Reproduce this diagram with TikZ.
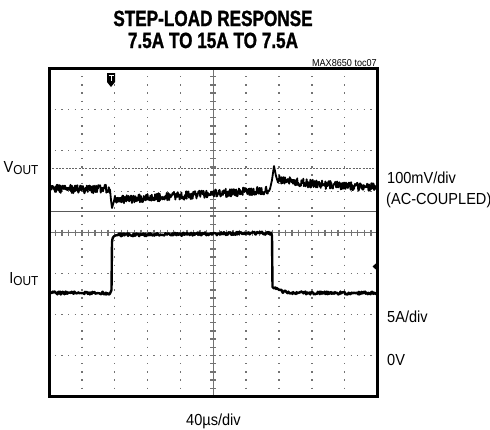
\documentclass[tikz,border=0pt]{standalone}
\usepackage{fontspec}
\setmainfont{Liberation Sans}
\newfontfamily\titlefont[FakeStretch=0.78, FakeBold=1.2]{Liberation Sans}
\newfontfamily\labelfont[FakeStretch=0.91]{Liberation Sans}
\usetikzlibrary{calc}

\begin{document}
\begin{tikzpicture}[x=1pt, y=-1pt]
    \tikzset{TraceStyle/.style = {line width=1.8pt, line join=round, color=black}}
    \tikzset{GridStyleH/.style = {line width=1.4pt, color=black!55, dash pattern=on 1.4pt off 5.17pt, dash phase=0.7pt}}
    \tikzset{GridStyleV/.style = {line width=1.4pt, color=black!55, dash pattern=on 1.4pt off 6.8pt, dash phase=0.7pt}}
    \tikzset{AxisStyle/.style = {line width=0.9pt, color=black!55}}
    \tikzset{LabelStyle/.style = {inner sep=0, font=\labelfont\fontsize{16}{19}\selectfont}}
    \pgfmathsetseed{8650}
    \useasboundingbox (0,0) rectangle (490,429);
    \coordinate (tl) at (49,68.5);
    \coordinate (br) at (377.5,396.5);
    % grid
    \foreach \k in {1,2,3,4,6,7,8,9}
        \draw[GridStyleV] ($(tl)+(32.85*\k,0)$) -- ($(tl |- br)+(32.85*\k,0)$);
    \foreach \j in {1,2,3,5,6,7}
        \draw[GridStyleH] ($(tl)+(0,41*\j)$) -- ($(br |- tl)+(0,41*\j)$);
    \draw[AxisStyle] ($(tl)+(164.25,0)$) -- ($(tl |- br)+(164.25,0)$);
    \foreach \j in {1,...,39}
        \draw[AxisStyle, line width=1.3pt] ($(tl)+(161.25,8.2*\j)$) -- ($(tl)+(167.25,8.2*\j)$);
    \draw[AxisStyle] ($(tl)+(0,164)$) -- ($(br |- tl)+(0,164)$);
    \foreach \k in {1,...,49}
        \draw[AxisStyle, line width=1.3pt] ($(tl)+(6.57*\k,161)$) -- ($(tl)+(6.57*\k,167)$);
    \draw[color=black!60, line width=1pt, dash pattern=on 2pt off 1.3pt] ($(tl)+(0,99.5)$) -- ($(br |- tl)+(0,99.5)$);
    \draw[color=black!65, line width=1pt] ($(tl)+(0,142.5)$) -- ($(br |- tl)+(0,142.5)$);
    % traces
    \draw[TraceStyle] plot[domain=50:110, samples=130] (\x, {189+4.3*rand})
        -- (111,200) -- (112,208) -- (114,201)
        -- plot[domain=115:270, samples=330] (\x, {200-10*(\x-115)/155+4.2*rand})
        -- (272,180) -- (274,166) -- (276,176)
        -- plot[domain=278:376, samples=210] (\x, {188-9*exp(-(\x-278)/45)+4.2*rand});
    \draw[TraceStyle, line width=2.4pt] plot[domain=50:110, samples=90] (\x, {293+1.5*rand})
        -- (111.5,290) -- (112,242) .. controls (112.5,236) and (114,235.5) .. (118,235)
        -- plot[domain=119:271, samples=220] (\x, {235-2*(\x-119)/152+1.5*rand})
        -- (272,236) -- (272.5,287)
        -- plot[domain=274:376, samples=150] (\x, {293-5*exp(-(\x-274)/8)+1.5*rand});
    % markers
    \fill (107,73) -- (115,73) -- (115,82) -- (111,87) -- (107,82) -- cycle;
    \draw[white, line width=1pt] (108.5,75.5) -- (113.5,75.5) (111,75.5) -- (111,81);
    \fill (372.5,266.5) -- (377,262.5) -- (377,270.5) -- cycle;
    \draw[line width=3pt] (tl) rectangle (br);
    % texts
    \node[anchor=base, inner sep=0, font=\titlefont\bfseries\fontsize{22}{22}\selectfont] (ttl1) at (213,26) {STEP-LOAD RESPONSE};
    \node[anchor=base, inner sep=0, font=\titlefont\bfseries\fontsize{22}{22}\selectfont] (ttl2) at (213,48) {7.5A TO 15A TO 7.5A};
    \node[anchor=base east, inner sep=0, font=\labelfont\fontsize{10}{10}\selectfont] (toc) at (377,66) {MAX8650 toc07};
    \node[LabelStyle, anchor=base east] (vout) at (38.5,172) {V\raisebox{-2.5pt}{\fontsize{13}{13}\selectfont OUT}};
    \node[LabelStyle, anchor=base east] (iout) at (38.5,283) {I\raisebox{-2.5pt}{\fontsize{13}{13}\selectfont OUT}};
    \node[LabelStyle, anchor=base west] (vdiv) at (387,183) {100mV/div};
    \node[LabelStyle, anchor=base west] (acc) at (386,204) {(AC-COUPLED)};
    \node[LabelStyle, anchor=base west] (idiv) at (387,322.5) {5A/div};
    \node[LabelStyle, anchor=base west] (zero) at (387,365) {0V};
    \node[LabelStyle, anchor=base] (tdiv) at (213.5,425) {40µs/div};
\end{tikzpicture}
\end{document}
